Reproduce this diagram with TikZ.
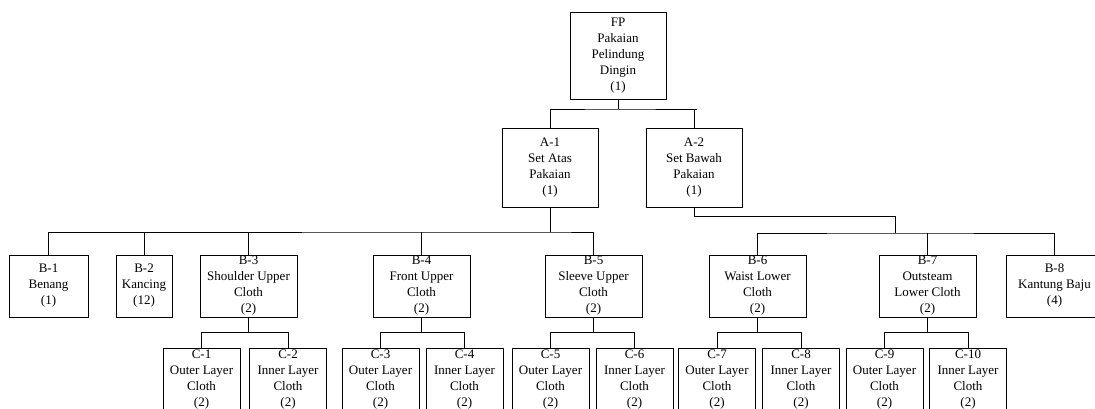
\documentclass[tikz,border=0pt]{standalone}
\usepackage{fontspec}
\setmainfont{Liberation Serif}

\begin{document}
\begin{tikzpicture}[x=1pt,y=-1pt,
    part/.style={draw,line width=0.6pt,inner sep=0pt,align=center,font=\fontsize{13}{16}\selectfont},
    link/.style={line width=0.6pt}]
    \useasboundingbox (0,0) rectangle (1095,409);
    % level 0 and 1
    \node[part,minimum width=96pt,minimum height=87pt] (fp) at (618,55.5) {FP\\Pakaian\\Pelindung\\Dingin\\(1)};
    \node[part,minimum width=96pt,minimum height=79pt] (a1) at (550,167.5) {A-1\\Set Atas\\Pakaian\\(1)};
    \node[part,minimum width=96pt,minimum height=79pt] (a2) at (694,167.5) {A-2\\Set Bawah\\Pakaian\\(1)};
    % level 2
    \node[part,minimum width=79pt,minimum height=62pt] (b1) at (48.5,286) {B-1\\Benang\\(1)};
    \node[part,minimum width=56pt,minimum height=62pt] (b2) at (144,286) {B-2\\Kancing\\(12)};
    \node[part,minimum width=97pt,minimum height=62pt] (b3) at (248.5,286) {B-3\\Shoulder Upper\\Cloth\\(2)};
    \node[part,minimum width=97pt,minimum height=62pt] (b4) at (421.5,286) {B-4\\Front Upper\\Cloth\\(2)};
    \node[part,minimum width=97pt,minimum height=62pt] (b5) at (593.5,286) {B-5\\Sleeve Upper\\Cloth\\(2)};
    \node[part,minimum width=97pt,minimum height=62pt] (b6) at (757.5,286) {B-6\\Waist Lower\\Cloth\\(2)};
    \node[part,minimum width=97pt,minimum height=62pt] (b7) at (927.5,286) {B-7\\Outsteam\\Lower Cloth\\(2)};
    \node[part,minimum width=97pt,minimum height=62pt] (b8) at (1054.5,286) {B-8\\Kantung Baju\\(4)};
    % level 3
    \node[part,minimum width=77pt,minimum height=63pt] (c1) at (201.5,379.5) {C-1\\Outer Layer\\Cloth\\(2)};
    \node[part,minimum width=77pt,minimum height=63pt] (c2) at (288,379.5) {C-2\\Inner Layer\\Cloth\\(2)};
    \node[part,minimum width=77pt,minimum height=63pt] (c3) at (380.5,379.5) {C-3\\Outer Layer\\Cloth\\(2)};
    \node[part,minimum width=77pt,minimum height=63pt] (c4) at (464.5,379.5) {C-4\\Inner Layer\\Cloth\\(2)};
    \node[part,minimum width=77pt,minimum height=63pt] (c5) at (550.5,379.5) {C-5\\Outer Layer\\Cloth\\(2)};
    \node[part,minimum width=77pt,minimum height=63pt] (c6) at (634.5,379.5) {C-6\\Inner Layer\\Cloth\\(2)};
    \node[part,minimum width=77pt,minimum height=63pt] (c7) at (717,379.5) {C-7\\Outer Layer\\Cloth\\(2)};
    \node[part,minimum width=77pt,minimum height=63pt] (c8) at (801,379.5) {C-8\\Inner Layer\\Cloth\\(2)};
    \node[part,minimum width=77pt,minimum height=63pt] (c9) at (884.5,379.5) {C-9\\Outer Layer\\Cloth\\(2)};
    \node[part,minimum width=77pt,minimum height=63pt] (c10) at (968,379.5) {C-10\\Inner Layer\\Cloth\\(2)};
    % connectors
    \coordinate (bus0) at (618,109);
    \draw[link] (fp) -- (bus0);
    \draw[link] (a1.north) |- (bus0) -| (a2.north);
    \draw[link] (a2.north |- bus0) -- ++(3,0);
    \coordinate (bus1) at (550,232);
    \draw[link] (a1) -- (bus1);
    \draw[link] (b1.north) |- (bus1) -| (b5.north);
    \foreach \n in {b2,b3,b4}
        \draw[link] (\n.north) -- (\n.north |- bus1);
    \coordinate (bus2) at (895,233);
    \draw[link] (a2.south) -- ++(0,9) -| (bus2);
    \draw[link] (b6.north) |- (bus2) -| (b8.north);
    \draw[link] (b7.north) -- (b7.north |- bus2);
    \foreach \p/\l/\r in {b3/c1/c2,b4/c3/c4,b5/c5/c6,b6/c7/c8,b7/c9/c10} {
        \draw[link] (\p.south) -- ++(0,15) coordinate (mid);
        \draw[link] (\l.north) |- (mid) -| (\r.north);
    }
\end{tikzpicture}
\end{document}
